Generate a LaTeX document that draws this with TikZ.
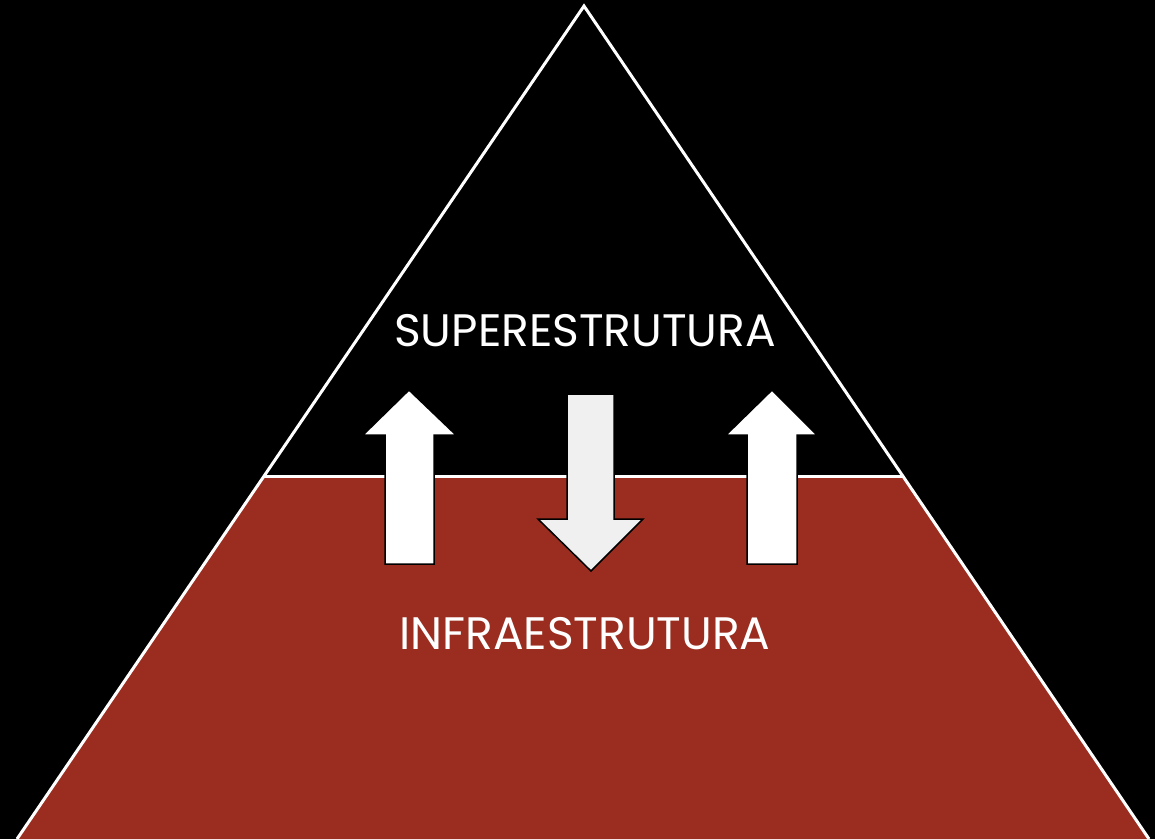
\documentclass[tikz,border=0pt]{standalone}
\usepackage{fontspec}
\setmainfont{Poppins}
\definecolor{infra}{HTML}{9B2D20}
\definecolor{downfill}{HTML}{F0F0F0}
\tikzset{
  edge/.style={draw=white,line width=3pt},
  uparrow/.style={fill=white,draw=black,line width=1.5pt},
  downarrow/.style={fill=downfill,draw=black,line width=1.5pt},
  label/.style={text=white,font=\fontsize{45.5}{45.5}\selectfont,inner sep=0pt}
}
\begin{document}
\begin{tikzpicture}[x=1pt,y=-1pt]
\fill[black] (0,0) rectangle (1155,839);
\useasboundingbox (0,0) rectangle (1155,839);
\coordinate (apex) at (584,6);
\coordinate (bl) at (17,839);
\coordinate (br) at (1149,839);
\coordinate (ml) at (264,476);
\coordinate (mr) at (903,476);
\fill[infra] (ml) -- (mr) -- (br) -- (bl) -- cycle;
\draw[edge,line join=miter] (bl) -- (apex) -- (br);
\draw[edge] (ml) -- (mr);
% arrows
\draw[uparrow] (409,390) -- (456,435) -- (434,435) -- (434,564) -- (385,564) -- (385,435) -- (363,435) -- cycle;
\draw[uparrow] (772,390) -- (817,435) -- (797,435) -- (797,564) -- (747,564) -- (747,435) -- (726,435) -- cycle;
\draw[downarrow] (567,394) -- (614,394) -- (614,519) -- (643,519) -- (591,571) -- (538,519) -- (567,519) -- cycle;
\node[label] (sup) at (585,331) {SUPERESTRUTURA};
\node[label] (inf) at (585,634) {INFRAESTRUTURA};
\end{tikzpicture}
\end{document}
